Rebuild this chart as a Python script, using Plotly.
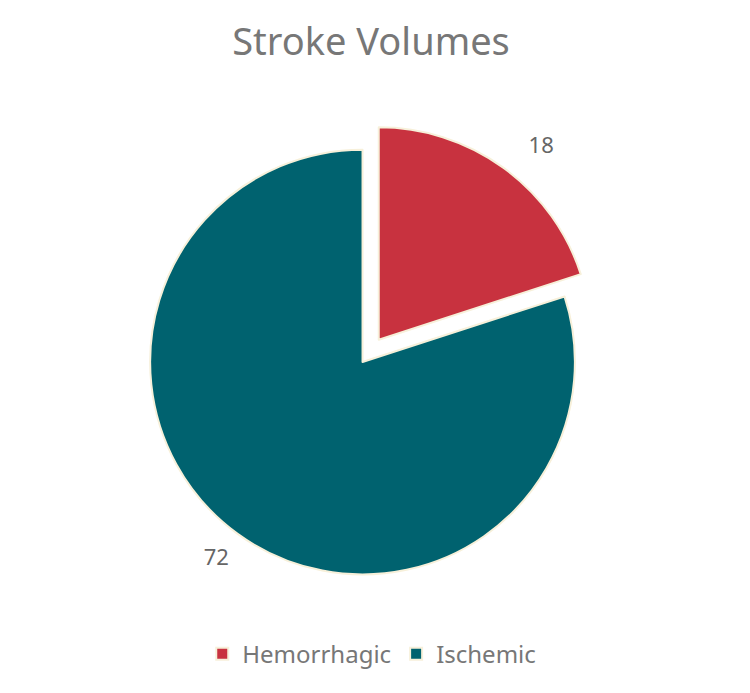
import plotly.graph_objects as go

# Stroke volumes by type
labels = ["Hemorrhagic", "Ischemic"]
values = [18, 72]
colors = ["#C8323F", "#00626F"]
pulls = [0.13, 0]

fig = go.Figure()

# main pie (no text)
fig.add_trace(go.Pie(
    labels=labels,
    values=values,
    pull=pulls,
    sort=False,
    direction="clockwise",
    rotation=0,
    marker=dict(colors=colors, line=dict(color="#F7F0DA", width=2)),
    textinfo="none",
    domain=dict(x=[0.1527, 0.7927], y=[0.1428, 0.8354]),
))

# transparent copy, slightly bigger, only carries the outside value labels
fig.add_trace(go.Pie(
    labels=labels,
    values=values,
    pull=pulls,
    sort=False,
    direction="clockwise",
    rotation=0,
    marker=dict(colors=["rgba(0,0,0,0)"] * 2, line=dict(width=0)),
    textinfo="value",
    textposition="outside",
    textfont=dict(family="Noto Sans", size=22, color="#666666"),
    showlegend=False,
    hoverinfo="skip",
    domain=dict(x=[0.14, 0.8254], y=[0.1182, 0.86]),
))

fig.update_layout(
    title=dict(text="Stroke Volumes", x=0.484, xanchor="center", y=0.97, yanchor="top",
               font=dict(family="Noto Sans", size=38, color="#777777")),
    legend=dict(orientation="h", x=0.485, xanchor="center", y=0.035, yanchor="bottom",
                font=dict(family="Noto Sans", size=24, color="#777777")),
    margin=dict(l=0, r=0, t=0, b=0),
    paper_bgcolor="white",
    width=750,
    height=693,
)

fig.write_html("out.html")
